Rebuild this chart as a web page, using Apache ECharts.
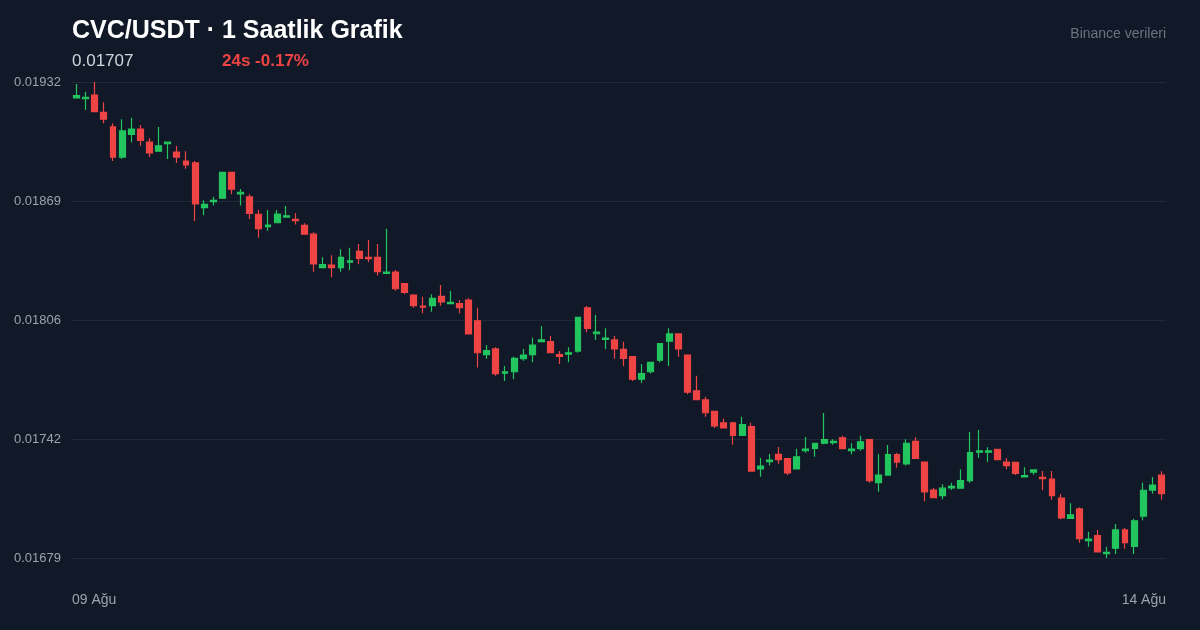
<!DOCTYPE html>
<html>
<head>
<meta charset="utf-8">
<script src="https://cdn.jsdelivr.net/npm/echarts@6/dist/echarts.min.js"></script>
<style>
html,body{margin:0;padding:0;background:#111827;}
#chart{width:1200px;height:630px;}
</style>
</head>
<body>
<div id="chart"></div>
<script>
// ---- data (open, close, low, high) ----
const opens = [0.019236,0.019232,0.019252,0.019160,0.019082,0.018922,0.019043,0.019071,0.019001,0.018953,
0.018993,0.018949,0.018901,0.018891,0.018653,0.018685,0.018703,0.018841,0.018726,0.018710,
0.018618,0.018552,0.018573,0.018603,0.018591,0.018559,0.018512,0.018334,0.018348,0.018334,
0.018363,0.018421,0.018389,0.018389,0.018304,0.018311,0.018249,0.018189,0.018130,0.018132,
0.018182,0.018143,0.018143,0.018162,0.018052,0.017872,0.017902,0.017773,0.017781,0.017850,
0.017872,0.017941,0.017941,0.017872,0.017875,0.017891,0.018120,0.017983,0.017953,0.017950,
0.017900,0.017861,0.017741,0.017781,0.017842,0.017943,0.017982,0.017870,0.017680,0.017631,
0.017571,0.017510,0.017510,0.017443,0.017489,0.017264,0.017303,0.017342,0.017319,0.017264,
0.017361,0.017374,0.017401,0.017404,0.017430,0.017361,0.017372,0.017420,0.017191,0.017232,
0.017340,0.017291,0.017411,0.017301,0.017152,0.017122,0.017163,0.017162,0.017202,0.017353,
0.017353,0.017369,0.017301,0.017300,0.017222,0.017247,0.017220,0.017211,0.017110,0.017002,
0.017052,0.016883,0.016910,0.016814,0.016843,0.016940,0.016853,0.017013,0.017152,0.017231];
const closes = [0.019249,0.019239,0.019163,0.019123,0.018922,0.019061,0.019071,0.019011,0.018944,0.018981,
0.019001,0.018922,0.018880,0.018673,0.018671,0.018692,0.018841,0.018752,0.018735,0.018623,
0.018542,0.018561,0.018619,0.018610,0.018584,0.018512,0.018354,0.018350,0.018334,0.018389,
0.018371,0.018384,0.018382,0.018313,0.018311,0.018222,0.018203,0.018132,0.018124,0.018171,
0.018152,0.018150,0.018121,0.017982,0.017882,0.017893,0.017771,0.017781,0.017852,0.017870,
0.017922,0.017950,0.017882,0.017863,0.017882,0.018070,0.018012,0.017992,0.017960,0.017902,
0.017852,0.017741,0.017771,0.017831,0.017930,0.017982,0.017902,0.017673,0.017632,0.017563,
0.017493,0.017482,0.017443,0.017500,0.017253,0.017280,0.017312,0.017314,0.017243,0.017329,
0.017370,0.017401,0.017420,0.017411,0.017372,0.017370,0.017409,0.017202,0.017232,0.017340,
0.017301,0.017401,0.017321,0.017142,0.017112,0.017162,0.017172,0.017202,0.017351,0.017360,
0.017360,0.017314,0.017282,0.017241,0.017229,0.017259,0.017213,0.017122,0.017004,0.017020,
0.016894,0.016892,0.016823,0.016821,0.016940,0.016872,0.016989,0.017151,0.017179,0.017133];
const lows = [0.019233,0.019172,0.019163,0.019102,0.018901,0.018912,0.019001,0.018982,0.018922,0.018953,
0.018912,0.018891,0.018860,0.018582,0.018613,0.018664,0.018699,0.018724,0.018664,0.018593,
0.018493,0.018531,0.018570,0.018603,0.018563,0.018512,0.018313,0.018334,0.018283,0.018313,
0.018322,0.018352,0.018363,0.018292,0.018304,0.018212,0.018193,0.018121,0.018092,0.018100,
0.018132,0.018143,0.018092,0.017982,0.017803,0.017850,0.017760,0.017732,0.017741,0.017840,
0.017831,0.017941,0.017882,0.017822,0.017831,0.017882,0.017991,0.017950,0.017902,0.017850,
0.017812,0.017732,0.017721,0.017771,0.017831,0.017812,0.017861,0.017661,0.017632,0.017542,
0.017482,0.017482,0.017393,0.017443,0.017253,0.017223,0.017282,0.017292,0.017232,0.017264,
0.017351,0.017329,0.017395,0.017393,0.017372,0.017342,0.017361,0.017191,0.017143,0.017232,
0.017271,0.017282,0.017321,0.017092,0.017112,0.017103,0.017152,0.017162,0.017191,0.017324,
0.017303,0.017314,0.017263,0.017232,0.017222,0.017234,0.017151,0.017101,0.016997,0.017002,
0.016872,0.016851,0.016823,0.016791,0.016812,0.016840,0.016812,0.016991,0.017133,0.017101];
const highs = [0.019310,0.019269,0.019321,0.019213,0.019102,0.019123,0.019131,0.019092,0.019022,0.019082,
0.019001,0.018981,0.018953,0.018901,0.018692,0.018711,0.018844,0.018843,0.018752,0.018724,
0.018641,0.018641,0.018641,0.018662,0.018623,0.018570,0.018522,0.018389,0.018400,0.018432,
0.018440,0.018460,0.018481,0.018460,0.018541,0.018322,0.018253,0.018193,0.018180,0.018193,
0.018242,0.018210,0.018162,0.018171,0.018121,0.017923,0.017911,0.017812,0.017861,0.017902,
0.017962,0.018023,0.017971,0.017891,0.017911,0.018070,0.018130,0.018083,0.018012,0.017971,
0.017941,0.017861,0.017822,0.017831,0.017930,0.018012,0.017982,0.017870,0.017760,0.017648,
0.017571,0.017531,0.017514,0.017542,0.017510,0.017323,0.017344,0.017381,0.017319,0.017372,
0.017434,0.017401,0.017562,0.017422,0.017441,0.017401,0.017441,0.017420,0.017342,0.017392,
0.017351,0.017422,0.017433,0.017301,0.017163,0.017183,0.017191,0.017263,0.017461,0.017471,
0.017379,0.017369,0.017321,0.017300,0.017273,0.017259,0.017253,0.017253,0.017131,0.017082,
0.017061,0.016931,0.016940,0.016851,0.016972,0.016950,0.017000,0.017191,0.017222,0.017252];
const hours = opens.map((_, i) => 'h' + i);
const xTickLabels = ['09 Ağu', '14 Ağu'];
const yMin = 0.016791, yMax = 0.019321, yStep = 0.0006325;
const titleText = 'CVC/USDT · 1 Saatlik Grafik';
const priceText = '0.01707';
const changeText = '24s -0.17%';
const sourceText = 'Binance verileri';

const candles = opens.map((o, i) => [o, closes[i], lows[i], highs[i]]);

const chart = echarts.init(document.getElementById('chart'), null, {renderer: 'canvas'});
const FONT = '"Liberation Sans", Arial, Helvetica, sans-serif';
chart.setOption({
  backgroundColor: '#111827',
  animation: false,
  grid: {left: 72, right: 34, top: 82, bottom: 72},
  xAxis: {
    type: 'category',
    data: hours,
    boundaryGap: true,
    axisLine: {show: false},
    axisTick: {show: false},
    axisLabel: {show: false},
    splitLine: {show: false}
  },
  yAxis: {
    type: 'value',
    min: yMin, max: yMax, interval: yStep,
    axisLine: {show: false},
    axisTick: {show: false},
    splitLine: {lineStyle: {color: '#1f2937', width: 1}},
    axisLabel: {
      color: '#9ca3af', fontSize: 13, fontFamily: FONT, margin: 11,
      formatter: v => v.toFixed(5)
    }
  },
  series: [{
    type: 'candlestick',
    data: candles,
    barWidth: '70%',
    itemStyle: {
      color: '#22c55e', color0: '#ef4444',
      borderColor: '#22c55e', borderColor0: '#ef4444',
      borderWidth: 1.2
    }
  }],
  graphic: [
    {type: 'text', left: 72, top: 19, style: {text: titleText, fill: '#ffffff', font: 'bold 25px ' + FONT}},
    {type: 'text', left: 72, top: 53, style: {text: priceText, fill: '#d1d5db', font: '17px ' + FONT}},
    {type: 'text', left: 222, top: 53, style: {text: changeText, fill: '#ef4444', font: 'bold 17px ' + FONT}},
    {type: 'text', right: 34, top: 27, style: {text: sourceText, fill: '#6b7280', font: '14px ' + FONT}},
    {type: 'text', left: 72, top: 593, style: {text: xTickLabels[0], fill: '#9ca3af', font: '14px ' + FONT}},
    {type: 'text', right: 34, top: 593, style: {text: xTickLabels[1], fill: '#9ca3af', font: '14px ' + FONT}}
  ]
});
</script>
</body>
</html>
